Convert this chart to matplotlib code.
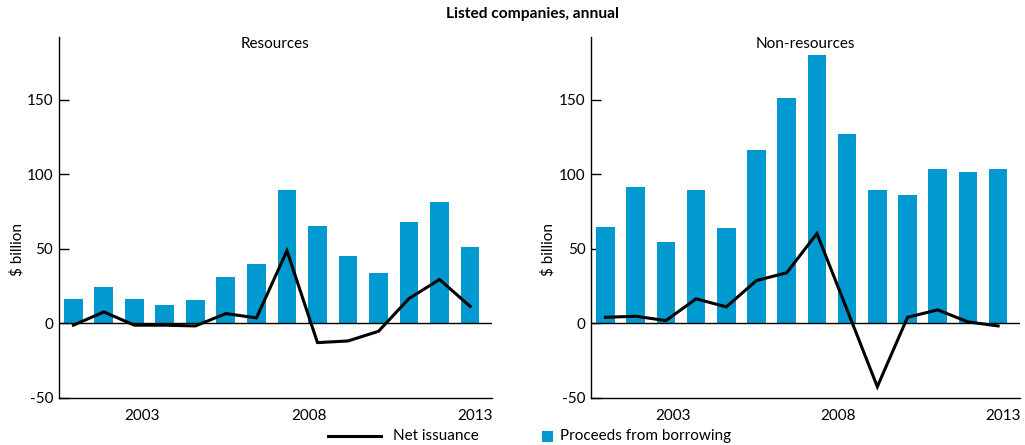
import numpy as np
import matplotlib.pyplot as plt
from matplotlib.lines import Line2D
from matplotlib.patches import Rectangle

plt.rcParams['font.family'] = ['Lato', 'DejaVu Sans']
plt.rcParams['axes.unicode_minus'] = False

BLUE = '#0099d0'

# annual values, $ billion
years = list(range(2000, 2014))
res_borrowing = [16.4, 24.4, 16.4, 12.3, 15.7, 31.2, 39.9, 89.7, 65.5, 45.3, 33.9, 68.2, 81.6, 51.3]
res_net = [-1.3, 7.6, -1.3, -1.3, -1.8, 6.5, 3.6, 48.7, -13.0, -11.9, -5.4, 16.6, 29.4, 11.4]
nonres_borrowing = [64.8, 91.7, 54.7, 89.7, 64.1, 116.6, 151.6, 180.5, 127.4, 89.7, 86.3, 103.8, 101.8, 103.8]
nonres_net = [4.0, 4.7, 1.8, 16.4, 11.0, 28.7, 33.9, 60.3, 9.0, -42.6, 4.0, 9.0, 0.9, -1.8]

tick_years = [2003, 2008, 2013]
yticks = [-50, 0, 50, 100, 150]

fig = plt.figure(figsize=(10.25, 4.45), dpi=100)
ax_res = fig.add_axes([0.0573, 0.1063, 0.4227, 0.8097])
ax_non = fig.add_axes([0.5766, 0.1063, 0.4184, 0.8097])


def draw_panel(ax, borrowing, net, title):
    x = np.arange(len(years))
    ax.bar(x, borrowing, width=0.62, color=BLUE, zorder=2)
    ax.plot(x, net, color='black', linewidth=2.2, zorder=4, solid_joinstyle='miter')
    ax.axhline(0, color='black', linewidth=1.0, zorder=3)
    ax.set_xlim(-0.48, 13.72)
    ax.set_ylim(-50, 192)
    ax.set_yticks(yticks)
    ax.tick_params(axis='y', direction='in', length=7, width=1.0, labelsize=11, pad=4)
    ax.tick_params(axis='x', length=0, labelbottom=False)
    for side in ['top', 'right']:
        ax.spines[side].set_visible(False)
    for side in ['left', 'bottom']:
        ax.spines[side].set_linewidth(1.0)
    ax.text(0.5, 0.981, title, transform=ax.transAxes, ha='center', va='center', fontsize=11)

    # year labels run on a calendar scale beneath the bars
    yr = ax.twiny()
    yr.set_xlim(2000.5, 2013.5)
    yr.set_xticks(tick_years)
    yr.xaxis.set_ticks_position('bottom')
    yr.xaxis.set_label_position('bottom')
    yr.tick_params(axis='x', length=0, labelsize=11, pad=8)
    for side in ['top', 'right', 'left', 'bottom']:
        yr.spines[side].set_visible(False)


draw_panel(ax_res, res_borrowing, res_net, 'Resources')
draw_panel(ax_non, nonres_borrowing, nonres_net, 'Non-resources')

fig.text(17 / 1025, 1 - 249 / 445, '$ billion', rotation=90, ha='center', va='center', fontsize=11)
fig.text(548 / 1025, 1 - 249 / 445, '$ billion', rotation=90, ha='center', va='center', fontsize=11)

fig.text(532 / 1025, 1 - 14 / 445, 'Listed companies, annual', ha='center', va='center',
         fontsize=11.2, fontweight='bold')

# legend along the bottom
ly = 1 - 436 / 445
fig.add_artist(Line2D([328 / 1025, 381 / 1025], [ly, ly], color='black', linewidth=2.2))
fig.text(393 / 1025, ly, 'Net issuance', ha='left', va='center', fontsize=11)
fig.add_artist(Rectangle((542 / 1025, ly - 5.5 / 445), 11 / 1025, 11 / 445,
                         facecolor=BLUE, edgecolor='none', transform=fig.transFigure))
fig.text(560 / 1025, ly, 'Proceeds from borrowing', ha='left', va='center', fontsize=11)

fig.savefig('out.png', dpi=100)
